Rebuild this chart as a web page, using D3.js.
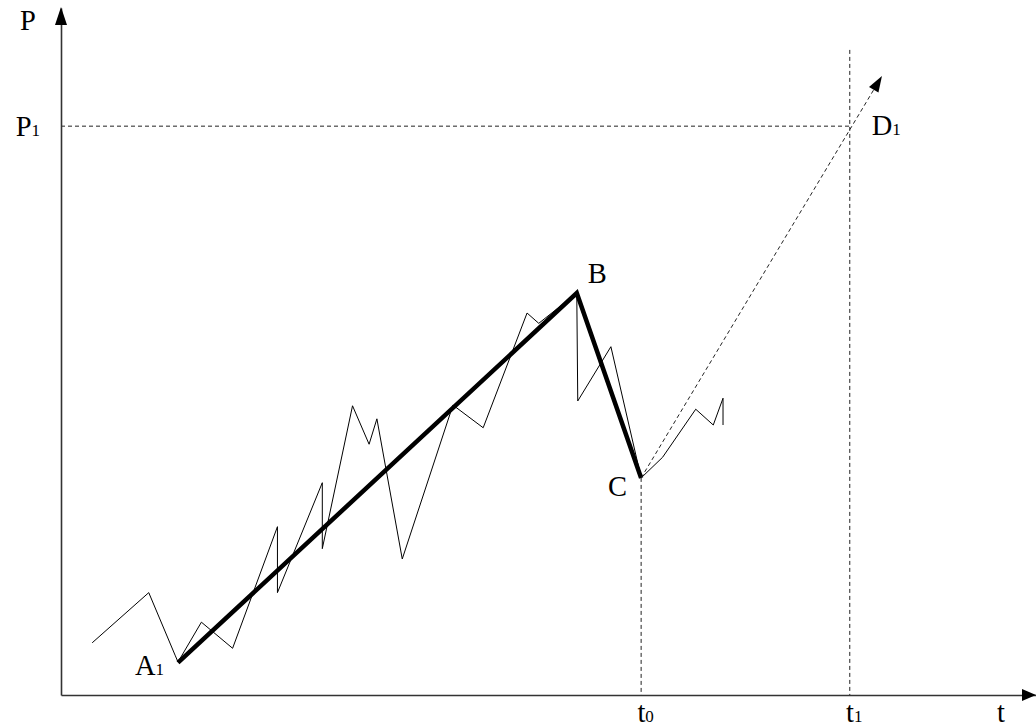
<!DOCTYPE html>
<html>
<head>
<meta charset="utf-8">
<script src="https://cdn.jsdelivr.net/npm/d3@7/dist/d3.min.js"></script>
<style>
  html, body { margin: 0; padding: 0; background: #fff; }
  svg { display: block; }
  text { font-family: "Liberation Serif", "Times New Roman", serif; fill: #000; }
</style>
</head>
<body>
<svg id="chart" width="1036" height="727"></svg>
<script>
// Observed price path (fluctuating thin line)
const pathT = [3.2, 9.0, 11.7, 12.0, 14.4, 17.6, 22.2, 22.2, 26.8, 26.8, 29.9, 31.6, 32.4, 35.0,
               40.2, 43.3, 47.8, 49.0, 52.9, 53.0, 56.4, 59.5, 61.7, 65.1, 66.9, 67.9, 67.9];
const pathP = [7.6, 14.9, 5.8, 4.8, 10.6, 6.8, 24.5, 14.9, 30.9, 21.3, 42.1, 36.5, 40.2, 19.8,
               42.2, 38.9, 55.6, 54.1, 58.5, 42.8, 50.7, 31.6, 34.6, 41.6, 39.3, 43.2, 39.3];

// Trend segments A1 -> B -> C (thick line)
const trendNames = ["A", "B", "C"];
const trendT = [12.0, 52.9, 59.5];
const trendP = [4.7, 58.5, 31.6];

// Projected move from C toward D1
const projT = [59.5, 84.2];
const projP = [31.6, 90.1];

// Reference levels
const t0 = 59.5, t1 = 80.9, P1 = 82.8;
const t1LineTop = 93.9;
const xTicks = [t0, t1];
const xTickLabels = [["t", "0"], ["t", "1"]];
const yTicks = [P1];
const yTickLabels = [["P", "1"]];

const MAIN_SIZE = 28.5, SUB_SIZE = 17;

const svg = d3.select("#chart");
const x = d3.scaleLinear().domain([0, 100]).range([61, 1036]);
const y = d3.scaleLinear().domain([0, 100]).range([695, 8]);

// subscript label helper: main letter + smaller index on the same baseline
function subLabel(sel, parts) {
  sel.text(null);
  sel.append("tspan").attr("font-size", MAIN_SIZE).text(parts[0]);
  if (parts[1]) sel.append("tspan").attr("font-size", SUB_SIZE).text(parts[1]);
}

// Dashed guide lines
const dash = "4,3";
svg.append("line")
  .attr("x1", x(0)).attr("x2", x(t1)).attr("y1", y(P1)).attr("y2", y(P1))
  .attr("stroke", "#222").attr("stroke-width", 1).attr("stroke-dasharray", dash);
svg.append("line")
  .attr("x1", x(t1)).attr("x2", x(t1)).attr("y1", y(t1LineTop)).attr("y2", y(0))
  .attr("stroke", "#222").attr("stroke-width", 1).attr("stroke-dasharray", dash);
svg.append("line")
  .attr("x1", x(t0)).attr("x2", x(t0)).attr("y1", y(trendP[2])).attr("y2", y(0))
  .attr("stroke", "#222").attr("stroke-width", 1).attr("stroke-dasharray", dash);

// Axes
const xAxis = d3.axisBottom(x).tickValues(xTicks).tickSize(0).tickSizeOuter(0);
const yAxis = d3.axisLeft(y).tickValues(yTicks).tickSize(0).tickSizeOuter(0).tickPadding(21);

const gx = svg.append("g").attr("transform", `translate(0,${y(0)})`).call(xAxis);
gx.select(".domain").attr("stroke", "#333").attr("stroke-width", 1.6);
gx.selectAll(".tick text")
  .attr("dy", 0).attr("y", 27).attr("dx", 4).attr("font-size", null)
  .attr("font-family", null)
  .each(function(d, i) { subLabel(d3.select(this), xTickLabels[i]); });

const gy = svg.append("g").attr("transform", `translate(${x(0)},0)`).call(yAxis);
gy.select(".domain").attr("stroke", "#333").attr("stroke-width", 1.6);
gy.selectAll(".tick text")
  .attr("dy", 9.5).attr("font-size", null).attr("font-family", null)
  .each(function(d, i) { subLabel(d3.select(this), yTickLabels[i]); });

// Axis arrowheads
svg.append("path")
  .attr("d", `M${x(100)},${y(0)} L${x(100) - 14},${y(0) - 6} L${x(100) - 14},${y(0) + 6} Z`)
  .attr("fill", "#000");
svg.append("path")
  .attr("d", `M${x(0)},${y(100) - 1} L${x(0) - 6},${y(100) + 17} L${x(0) + 6},${y(100) + 17} Z`)
  .attr("fill", "#000");

// Axis titles
svg.append("text").attr("x", x(0) - 41).attr("y", 30).attr("font-size", MAIN_SIZE).text("P");
svg.append("text").attr("x", 997).attr("y", 722).attr("font-size", MAIN_SIZE).text("t");

// Thin fluctuating price path
const pathData = pathT.map((t, i) => [t, pathP[i]]);
const line = d3.line().x(d => x(d[0])).y(d => y(d[1]));
svg.append("path").datum(pathData).attr("d", line)
  .attr("fill", "none").attr("stroke", "#000").attr("stroke-width", 1)
  .attr("stroke-linejoin", "miter");

// Thick trend line
const trendData = trendT.map((t, i) => [t, trendP[i]]);
svg.append("path").datum(trendData).attr("d", line)
  .attr("fill", "none").attr("stroke", "#000").attr("stroke-width", 4.5)
  .attr("stroke-linejoin", "miter");

// Dashed projection with arrowhead
const projData = projT.map((t, i) => [t, projP[i]]);
svg.append("path").datum(projData).attr("d", line)
  .attr("fill", "none").attr("stroke", "#222").attr("stroke-width", 1)
  .attr("stroke-dasharray", dash);
{
  const x0 = x(projT[0]), y0 = y(projP[0]), x1 = x(projT[1]), y1 = y(projP[1]);
  const ang = Math.atan2(y1 - y0, x1 - x0);
  const len = 16, hw = 5.5;
  const bx = x1 - len * Math.cos(ang), by = y1 - len * Math.sin(ang);
  const px = -Math.sin(ang) * hw, py = Math.cos(ang) * hw;
  svg.append("path")
    .attr("d", `M${x1},${y1} L${bx + px},${by + py} L${bx - px},${by - py} Z`)
    .attr("fill", "#000");
}

// Point labels
const pointLabels = [
  { t: trendT[0], p: trendP[0], parts: ["A", "1"], dx: -14, dy: 12, anchor: "end" },
  { t: trendT[1], p: trendP[1], parts: ["B"], dx: 11, dy: -10, anchor: "start" },
  { t: trendT[2], p: trendP[2], parts: ["C"], dx: -14, dy: 18, anchor: "end" },
  { t: t1, p: P1, parts: ["D", "1"], dx: 22, dy: 9, anchor: "start" }
];
pointLabels.forEach(l => {
  const txt = svg.append("text")
    .attr("x", x(l.t) + l.dx).attr("y", y(l.p) + l.dy)
    .attr("text-anchor", l.anchor);
  subLabel(txt, l.parts);
});
</script>
</body>
</html>
